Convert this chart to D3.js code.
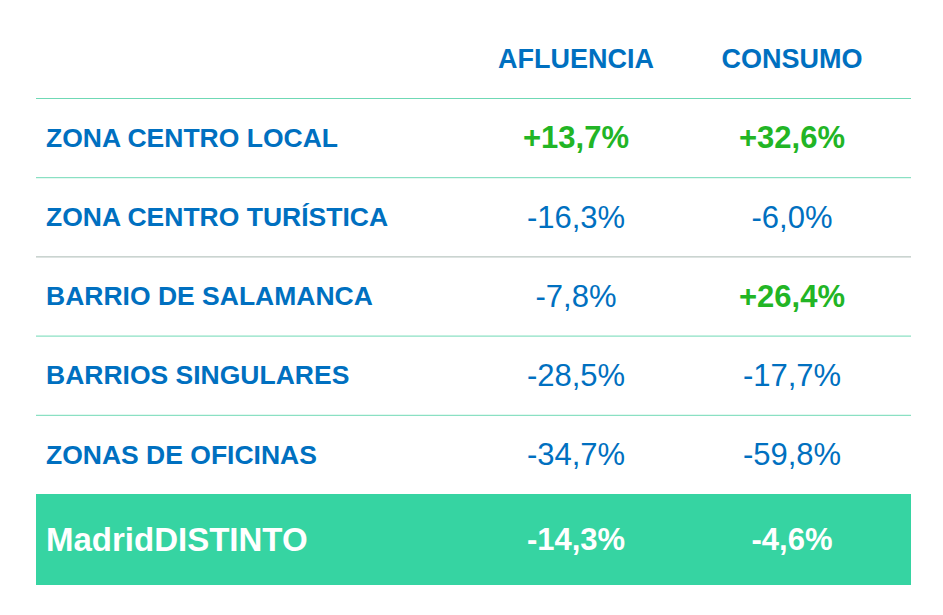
<!DOCTYPE html>
<html>
<head>
<meta charset="utf-8">
<script src="https://cdn.jsdelivr.net/npm/d3@7"></script>
<style>body{margin:0;background:#fff}</style>
</head>
<body>
<svg id="chart" width="943" height="615"></svg>
<script>
const zones = ['ZONA CENTRO LOCAL', 'ZONA CENTRO TURÍSTICA', 'BARRIO DE SALAMANCA', 'BARRIOS SINGULARES', 'ZONAS DE OFICINAS', 'MadridDISTINTO'];
const columns = ['AFLUENCIA', 'CONSUMO'];
const afluencia = [13.7, -16.3, -7.8, -28.5, -34.7, -14.3];
const consumo = [32.6, -6.0, 26.4, -17.7, -59.8, -4.6];

const svg = d3.select('#chart');
const font = 'Liberation Sans, Arial, sans-serif';
const blue = '#0070c0', green = '#22b525', teal = '#36d4a2';

// regular rows share one band scale, the total row is taller
const body = zones.slice(0, -1);
const last = zones[zones.length - 1];
const yb = d3.scaleBand().domain(body).range([98, 494]);
const rowTop = (d) => (d === last ? 494 : yb(d));
const rowH = (d) => (d === last ? 91 : yb.bandwidth());
const x = d3.scalePoint().domain(columns).range([576, 792]);
const fmt = (v) => (v > 0 ? '+' : '') + v.toFixed(1).replace('.', ',') + '%';

// header
svg.selectAll('.head').data(columns).enter().append('text')
  .attr('x', (d) => x(d)).attr('y', 59).attr('dy', '0.35em').attr('text-anchor', 'middle')
  .style('font', `bold 27px ${font}`).attr('fill', blue).text((d) => d);

// total row background
svg.append('rect').attr('x', 36).attr('width', 875)
  .attr('y', rowTop(last)).attr('height', rowH(last)).attr('fill', teal);

// separator lines
svg.selectAll('.sep').data(body).enter().append('line')
  .attr('x1', 36).attr('x2', 911)
  .attr('y1', (d) => rowTop(d) + 0.5).attr('y2', (d) => rowTop(d) + 0.5)
  .attr('stroke', (d, i) => (i === 2 ? '#a8b8b2' : '#6fd9b5')).attr('stroke-width', 1);

const rows = svg.selectAll('.row').data(zones).enter().append('g')
  .attr('transform', (d) => `translate(0,${rowTop(d) + rowH(d) / 2})`);

rows.append('text').attr('x', 46).attr('dy', '0.35em')
  .style('font', (d) => d === last ? `bold 33px ${font}` : `bold 26.5px ${font}`)
  .attr('fill', (d) => d === last ? '#fff' : blue)
  .text((d) => d);

[afluencia, consumo].forEach((vals, c) => {
  rows.append('text').attr('x', x(columns[c])).attr('dy', '0.35em').attr('text-anchor', 'middle')
    .style('font', (d, i) => {
      const bold = d === last || vals[i] > 0;
      return `${bold ? 'bold ' : ''}31px ${font}`;
    })
    .attr('fill', (d, i) => d === last ? '#fff' : vals[i] > 0 ? green : blue)
    .text((d, i) => fmt(vals[i]));
});
</script>
</body>
</html>
